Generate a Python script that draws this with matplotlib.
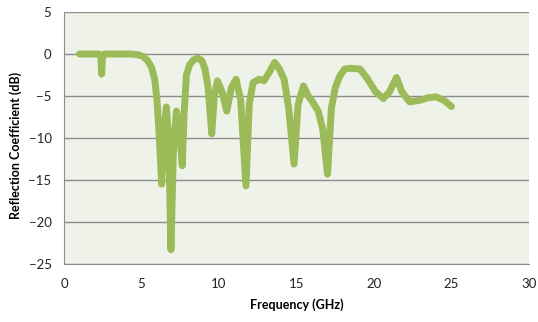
import matplotlib
matplotlib.use("Agg")
import matplotlib.pyplot as plt

freq = [1.0, 2.25, 2.38, 2.43, 2.48, 2.6, 3.5, 4.3, 4.8, 5.1, 5.4, 5.65, 5.85,
        6.0, 6.15, 6.3, 6.45, 6.6, 6.75, 6.9, 7.05, 7.25, 7.45, 7.63, 7.75,
        7.9, 8.1, 8.35, 8.65, 8.9, 9.1, 9.3, 9.53, 9.7, 9.9, 10.2, 10.5, 10.8,
        11.1, 11.4, 11.74, 11.95, 12.2, 12.6, 12.9, 13.3, 13.6, 13.9, 14.2,
        14.5, 14.84, 15.1, 15.45, 15.75, 16.0, 16.4, 16.7, 17.0, 17.25, 17.5,
        17.8, 18.1, 18.5, 19.1, 19.6, 20.1, 20.6, 21.0, 21.45, 21.8, 22.3,
        23.0, 23.5, 24.0, 24.5, 25.0]
s11 = [0, 0, -0.3, -2.4, -0.3, 0, 0, 0, -0.1, -0.3, -0.8, -1.6, -3,
       -5.5, -10, -15.5, -9, -6.3, -10, -23.3, -12, -6.8, -9, -13.3, -7,
       -2.5, -1.3, -0.7, -0.5, -0.8, -1.8, -4, -9.5, -5, -3.2, -4.5, -6.8, -4.0,
       -3.0, -5.5, -15.7, -6, -3.4, -3.0, -3.2, -2.0, -1.0, -1.8, -3.0,
       -6.5, -13.1, -6, -3.8, -5.0, -5.6, -6.8, -9.0, -14.3, -6.5, -4.0,
       -2.6, -1.8, -1.7, -1.8, -3.0, -4.5, -5.3, -4.5, -2.8, -4.5, -5.7,
       -5.5, -5.2, -5.1, -5.5, -6.25]

xticks = [0, 5, 10, 15, 20, 25, 30]
yticks = [-25, -20, -15, -10, -5, 0, 5]

plt.rcParams['font.family'] = ['Lato', 'DejaVu Sans']

fig = plt.figure(figsize=(5.38, 3.22), dpi=100)
ax = fig.add_axes([64/538, 1-264/322, (529-64)/538, (264-12)/322])
ax.set_facecolor('#EFF2E9')

ax.plot(freq, s11, color='#9BBB59', lw=5, solid_joinstyle='round',
        solid_capstyle='round', zorder=3)

ax.set_xlim(0, 30)
ax.set_ylim(-25, 5)
ax.set_xticks(xticks)
ax.set_yticks(yticks)
ax.grid(axis='y', color='#8C8C8C', lw=1)
ax.set_axisbelow(True)
ax.tick_params(axis='x', length=0, labelsize=9.5, pad=10, colors='#222222')
ax.tick_params(axis='y', length=0, labelsize=9.5, pad=9, colors='#222222')
for side in ['top', 'right']:
    ax.spines[side].set_visible(False)
for side in ['left', 'bottom']:
    ax.spines[side].set_color('#8C8C8C')

ax.set_xlabel('Frequency (GHz)', fontsize=9, fontweight='bold', labelpad=6)
ax.set_ylabel('Reflection Coefficient (dB)', fontsize=9, fontweight='bold')
ax.yaxis.set_label_coords(-0.091, 0.472)

fig.savefig('out.png', dpi=100)
